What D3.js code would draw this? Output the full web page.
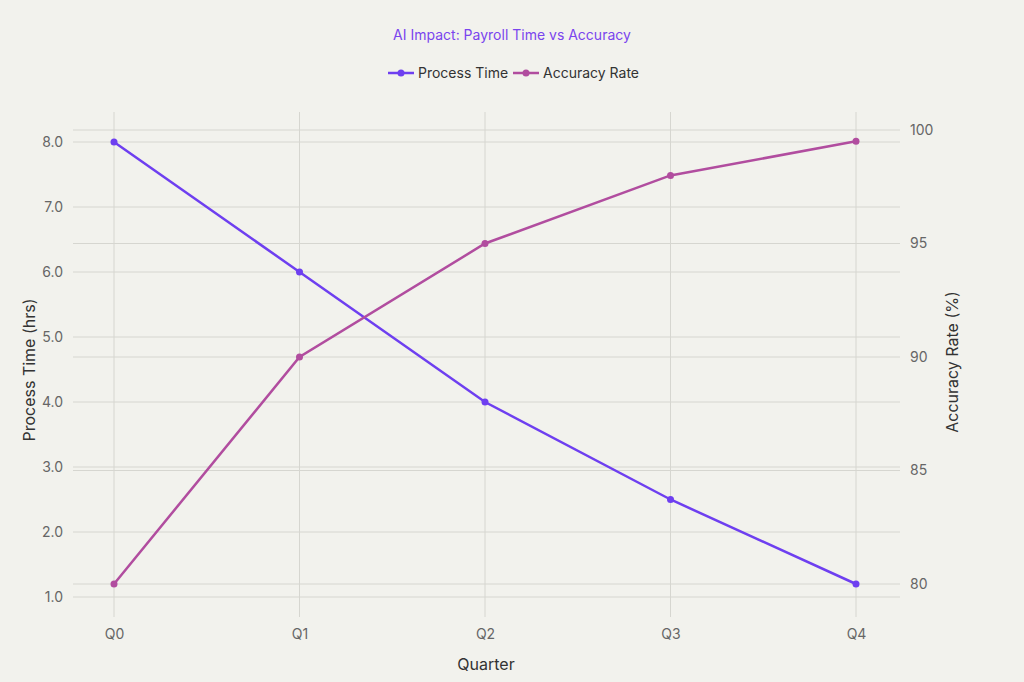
<!DOCTYPE html>
<html><head><meta charset="utf-8">
<script src="https://cdn.jsdelivr.net/npm/d3@7"></script>
<style>body{margin:0;background:#f2f2ed;}text{font-family:Inter,"Noto Sans",sans-serif;}</style>
</head><body>
<svg id="chart" width="1024" height="682"></svg>
<script>
var quarters = ["Q0","Q1","Q2","Q3","Q4"];
var processTime = [8, 6, 4, 2.5, 1.2];
var accuracyRate = [80, 90, 95, 98, 99.5];
var leftTicks = [1,2,3,4,5,6,7,8];
var rightTicks = [80,85,90,95,100];

var svg = d3.select("#chart");
svg.append("rect").attr("width",1024).attr("height",682).attr("fill","#f2f2ed");

var x = d3.scalePoint().domain(quarters).range([114,856]);
var yL = d3.scaleLinear().domain([1,8]).range([597,142]);
var yR = d3.scaleLinear().domain([80,100]).range([584,130]);

var grid = svg.append("g").attr("stroke","#d6d6d0").attr("stroke-width",1);
quarters.forEach(function(q){
  grid.append("line").attr("x1",x(q)).attr("x2",x(q)).attr("y1",112).attr("y2",617);
});
leftTicks.forEach(function(t){
  grid.append("line").attr("x1",73).attr("x2",900).attr("y1",yL(t)).attr("y2",yL(t));
});
rightTicks.forEach(function(t){
  grid.append("line").attr("x1",73).attr("x2",900).attr("y1",yR(t)).attr("y2",yR(t));
});

var axisL = d3.axisLeft(yL).tickValues(leftTicks).tickSize(0).tickPadding(10);
var axisR = d3.axisRight(yR).tickValues(rightTicks).tickSize(0).tickPadding(10);
var axisB = d3.axisBottom(x).tickSize(0).tickPadding(12);
[svg.append("g").attr("transform","translate(73,0)").call(axisL),
 svg.append("g").attr("transform","translate(900,0)").call(axisR),
 svg.append("g").attr("transform","translate(0,617)").call(axisB)].forEach(function(g){
  g.select(".domain").remove();
  g.selectAll("text").attr("fill","#666").style("font-size","14px");
});

function drawSeries(vals, scale, color){
  var line = d3.line().x(function(d,i){return x(quarters[i]);}).y(function(d){return scale(d);});
  svg.append("path").datum(vals).attr("d",line).attr("fill","none").attr("stroke",color).attr("stroke-width",2.5);
  svg.selectAll(null).data(vals).enter().append("circle")
    .attr("cx",function(d,i){return x(quarters[i]);}).attr("cy",function(d){return scale(d);})
    .attr("r",3.5).attr("fill",color);
}
drawSeries(processTime, yL, "#6e3ff0");
drawSeries(accuracyRate, yR, "#b14d9f");

svg.append("text").attr("x",512).attr("y",40).attr("text-anchor","middle")
  .attr("fill","#7a45ee").style("font-size","14px").text("AI Impact: Payroll Time vs Accuracy");

var leg = [["Process Time","#6e3ff0",388],["Accuracy Rate","#b14d9f",513]];
leg.forEach(function(l){
  svg.append("line").attr("x1",l[2]).attr("x2",l[2]+26).attr("y1",73).attr("y2",73).attr("stroke",l[1]).attr("stroke-width",2.5);
  svg.append("circle").attr("cx",l[2]+13).attr("cy",73).attr("r",3.5).attr("fill",l[1]);
  svg.append("text").attr("x",l[2]+30).attr("y",78).attr("fill","#333").style("font-size","14px").text(l[0]);
});

svg.append("text").attr("x",486).attr("y",670).attr("text-anchor","middle").attr("fill","#333").style("font-size","16px").text("Quarter");
svg.append("text").attr("transform","translate(35,370) rotate(-90)").attr("text-anchor","middle").attr("fill","#333").style("font-size","16px").text("Process Time (hrs)");
svg.append("text").attr("transform","translate(958,362) rotate(-90)").attr("text-anchor","middle").attr("fill","#333").style("font-size","16px").text("Accuracy Rate (%)");
</script>
</body></html>
